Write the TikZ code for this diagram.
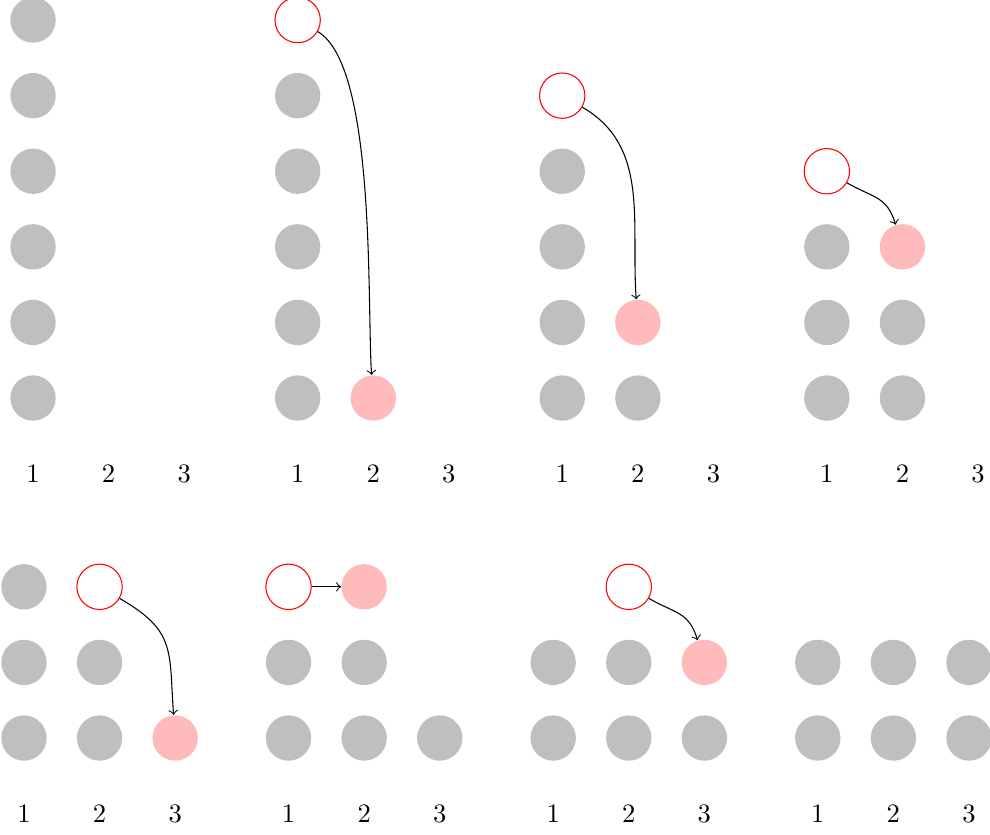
\documentclass[tikz,border=0pt]{standalone}
\usetikzlibrary{positioning}
\definecolor{diskGray}{HTML}{BFBFBF}
\definecolor{diskPink}{HTML}{FFBBBB}
\definecolor{liftRed}{HTML}{FF0000}

\begin{document}
\begin{tikzpicture}[
    disk/.style={circle, fill=diskGray, minimum size=0.6cm, inner sep=0pt},
    landed/.style={circle, fill=diskPink, minimum size=0.6cm, inner sep=0pt},
    lifted/.style={circle, draw=liftRed, fill=white, minimum size=0.6cm, inner sep=0pt},
    pegLabel/.style={font=\normalsize, inner sep=1pt},
    moveArrow/.style={->, out=-30, in=94, looseness=1.2},
]
\useasboundingbox (0,0) rectangle (13.095,-11.032);

% top row
\begin{scope}[shift={(0.437,-5.265)}]
    \foreach \r in {1,...,6}
        \node[disk] (pa\r) at (0,\r-1) {};
    \foreach \c in {1,2,3}
        \node[pegLabel] (paLab\c) at (\c-1,-1) {\c};
\end{scope}

\begin{scope}[shift={(3.937,-5.265)}]
    \foreach \r in {1,...,5}
        \node[disk] (pb\r) at (0,\r-1) {};
    \node[lifted] (pbUp) at (0,5) {};
    \node[landed] (pbDown) at (1,0) {};
    \draw[moveArrow, looseness=0.5] (pbUp) to (pbDown);
    \foreach \c in {1,2,3}
        \node[pegLabel] (pbLab\c) at (\c-1,-1) {\c};
\end{scope}

\begin{scope}[shift={(7.437,-5.265)}]
    \foreach \r in {1,...,4}
        \node[disk] (pc\r) at (0,\r-1) {};
    \node[disk] (pcB1) at (1,0) {};
    \node[lifted] (pcUp) at (0,4) {};
    \node[landed] (pcDown) at (1,1) {};
    \draw[moveArrow, looseness=1] (pcUp) to (pcDown);
    \foreach \c in {1,2,3}
        \node[pegLabel] (pcLab\c) at (\c-1,-1) {\c};
\end{scope}

\begin{scope}[shift={(10.937,-5.265)}]
    \foreach \r in {1,...,3}
        \node[disk] (pd\r) at (0,\r-1) {};
    \foreach \r in {1,2}
        \node[disk] (pdB\r) at (1,\r-1) {};
    \node[lifted] (pdUp) at (0,3) {};
    \node[landed] (pdDown) at (1,2) {};
    \draw[moveArrow, in=107] (pdUp) to (pdDown);
    \foreach \c in {1,2,3}
        \node[pegLabel] (pdLab\c) at (\c-1,-1) {\c};
\end{scope}

% bottom row
\begin{scope}[shift={(0.317,-9.762)}]
    \foreach \r in {1,...,3}
        \node[disk] (pe\r) at (0,\r-1) {};
    \foreach \r in {1,2}
        \node[disk] (peB\r) at (1,\r-1) {};
    \node[lifted] (peUp) at (1,2) {};
    \node[landed] (peDown) at (2,0) {};
    \draw[moveArrow, looseness=1.3] (peUp) to (peDown);
    \foreach \c in {1,2,3}
        \node[pegLabel] (peLab\c) at (\c-1,-1) {\c};
\end{scope}

\begin{scope}[shift={(3.817,-9.762)}]
    \foreach \r in {1,2}
        \node[disk] (pf\r) at (0,\r-1) {};
    \foreach \r in {1,2}
        \node[disk] (pfB\r) at (1,\r-1) {};
    \node[disk] (pfC1) at (2,0) {};
    \node[lifted] (pfUp) at (0,2) {};
    \node[landed] (pfDown) at (1,2) {};
    \draw[->] (pfUp) -- (pfDown);
    \foreach \c in {1,2,3}
        \node[pegLabel] (pfLab\c) at (\c-1,-1) {\c};
\end{scope}

\begin{scope}[shift={(7.317,-9.762)}]
    \foreach \r in {1,2}
        \node[disk] (pg\r) at (0,\r-1) {};
    \foreach \r in {1,2}
        \node[disk] (pgB\r) at (1,\r-1) {};
    \node[disk] (pgC1) at (2,0) {};
    \node[lifted] (pgUp) at (1,2) {};
    \node[landed] (pgDown) at (2,1) {};
    \draw[moveArrow, in=107] (pgUp) to (pgDown);
    \foreach \c in {1,2,3}
        \node[pegLabel] (pgLab\c) at (\c-1,-1) {\c};
\end{scope}

\begin{scope}[shift={(10.817,-9.762)}]
    \foreach \c in {1,2,3}
        \foreach \r in {1,2}
            \node[disk] (ph\c\r) at (\c-1,\r-1) {};
    \foreach \c in {1,2,3}
        \node[pegLabel] (phLab\c) at (\c-1,-1) {\c};
\end{scope}
\end{tikzpicture}
\end{document}
